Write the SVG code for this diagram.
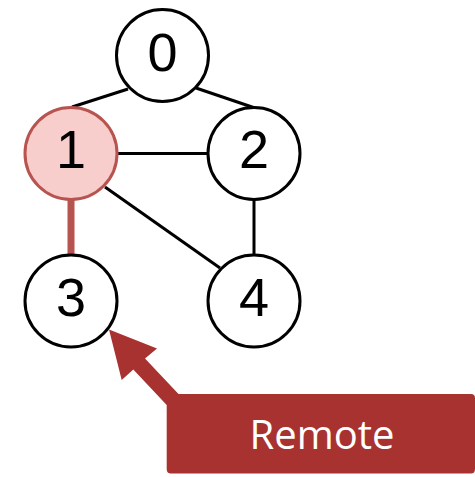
<svg xmlns="http://www.w3.org/2000/svg" width="475" height="477" viewBox="0 0 475 477">
<style>
.n{fill:#ffffff;stroke:#000000;stroke-width:3}
.h{fill:#f8cecc;stroke:#b85450;stroke-width:3}
.t{font-family:"Liberation Sans",Arial,sans-serif;font-size:54px;text-anchor:middle;fill:#000000}
.e{stroke:#000000;stroke-width:3;fill:none}
</style>
<rect width="475" height="477" fill="#ffffff"/>
<g id="connectors">
<line class="e" x1="128" y1="89" x2="72" y2="107"/>
<line class="e" x1="196" y1="88" x2="255" y2="108"/>
<line class="e" x1="118" y1="153.5" x2="207" y2="153.5"/>
<line class="e" x1="105" y1="187" x2="220" y2="268"/>
<line class="e" x1="254" y1="200" x2="254" y2="256"/>
<line x1="71" y1="192" x2="71" y2="262" stroke="#b85450" stroke-width="7" stroke-linecap="round"/>
</g>
<g id="node0"><circle class="n" cx="162.5" cy="55.5" r="46"/><text class="t" x="162.5" y="71">0</text></g>
<g id="node1"><circle class="h" cx="71" cy="153.5" r="46"/><text class="t" x="71" y="168">1</text></g>
<g id="node2"><circle class="n" cx="254" cy="153.5" r="46"/><text class="t" x="254" y="168">2</text></g>
<g id="node3"><circle class="n" cx="71" cy="301" r="46"/><text class="t" x="71" y="316">3</text></g>
<g id="node4"><circle class="n" cx="254" cy="301" r="46"/><text class="t" x="254" y="316">4</text></g>
<g id="callout">
<path d="M109,329.5 L157,348.5 L145,358.5 L178.5,394 L471,394 Q475,394 475,398 L475,469 Q475,473.5 471,473.5 L171,473.5 Q166.7,473.5 166.7,469 L166.7,405 L133.3,369.5 L121.7,380 Z" fill="#a83230"/>
<text x="322" y="449" font-family="'Open Sans','Liberation Sans',sans-serif" font-size="40" fill="#ffffff" text-anchor="middle">Remote</text>
</g>
</svg>
